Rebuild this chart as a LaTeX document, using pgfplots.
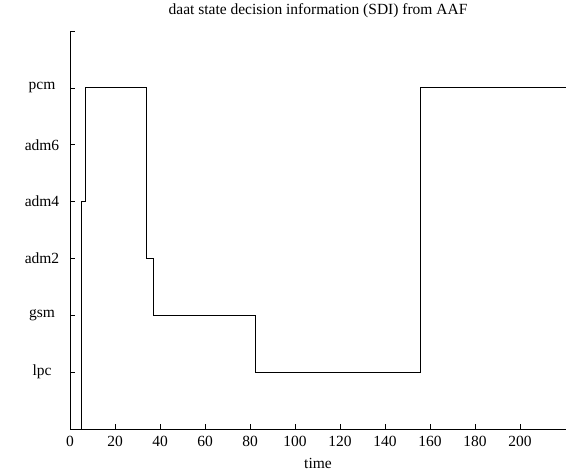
\documentclass[border=0pt]{standalone}
\usepackage{fontspec}
\setmainfont{Liberation Serif}
\usepackage{pgfplots}
\pgfplotsset{compat=1.18}
\begin{document}
\begin{tikzpicture}
\begin{axis}[
  scale only axis,
  width=496pt, height=398pt,
  xmin=0, xmax=220.4,
  ymin=0, ymax=7,
  axis lines*=left,
  axis line style={-, black, line width=0.8pt},
  tick align=inside,
  tick style={black, line width=0.6pt},
  major tick length=5pt,
  xtick={0,20,40,60,80,100,120,140,160,180,200},
  xticklabels={0,20,40,60,80,100,120,140,160,180,200},
  ytick={0,1,2,3,4,5,6,7},
  yticklabels={,lpc,gsm,adm2,adm4,adm6,pcm,},
  ticklabel style={font=\fontsize{15.5}{18}\selectfont},
  yticklabel style={anchor=center, xshift=-28pt},
  xticklabel style={yshift=-4pt},
  title={daat state decision information (SDI) from AAF},
  title style={font=\fontsize{15.5}{18}\selectfont, at={(0.5,1)}, anchor=center, yshift=14pt},
  xlabel={time},
  xlabel style={font=\fontsize{15.5}{18}\selectfont, at={(0.5,0)}, anchor=center, yshift=-34.5pt},
]
\addplot[const plot, black, line width=0.8pt] coordinates {
  (0,0) (5.2,4) (7,6) (34.1,3) (37.2,2) (82.4,1) (155.6,6) (220.4,6)
};
\end{axis}
\pgfresetboundingbox
\path[use as bounding box] ([xshift=-70pt,yshift=-43pt]current axis.south west) rectangle ([yshift=31pt]current axis.north east);
\end{tikzpicture}
\end{document}
